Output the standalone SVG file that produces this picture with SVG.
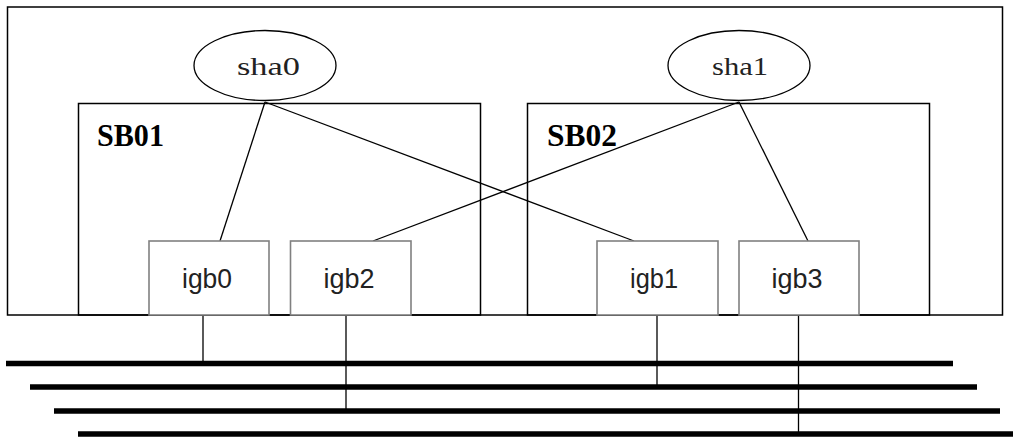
<svg xmlns="http://www.w3.org/2000/svg" width="1013" height="437" viewBox="0 0 1013 437">
<style>
.box{fill:none;stroke:#000;stroke-width:1.5}
.nic{fill:#fff;stroke:#808080;stroke-width:1.6}
.ell{fill:#fff;stroke:#000;stroke-width:1.3}
.ln{stroke:#000;stroke-width:1.3;fill:none}
.bus{stroke:#000;stroke-width:5.5}
.sha{font-family:"Liberation Serif",serif;font-size:26px;fill:#222;text-anchor:middle}
.sb{font-family:"Liberation Serif",serif;font-weight:bold;font-size:31px;fill:#000}
.igb{font-family:"Liberation Sans",Arial,sans-serif;font-size:27px;fill:#222;text-anchor:middle}
</style>
<rect width="1013" height="437" fill="#fff"/>
<g id="host"><rect class="box" x="7.5" y="7" width="995" height="308"/></g>
<g id="SB01"><rect class="box" x="78.5" y="103.5" width="402" height="211.5"/><text class="sb" x="97" y="146" textLength="67" lengthAdjust="spacingAndGlyphs">SB01</text></g>
<g id="SB02"><rect class="box" x="527.5" y="103.5" width="402" height="211.5"/><text class="sb" x="547" y="146" textLength="70" lengthAdjust="spacingAndGlyphs">SB02</text></g>
<g id="connectors">
<line class="ln" x1="265" y1="102" x2="220" y2="241"/>
<line class="ln" x1="265" y1="102" x2="634" y2="241"/>
<line class="ln" x1="739" y1="102" x2="373" y2="241"/>
<line class="ln" x1="739" y1="102" x2="808" y2="241"/>
<line class="ln" x1="203" y1="315" x2="203" y2="363"/>
<line class="ln" x1="346" y1="315" x2="346" y2="411"/>
<line class="ln" x1="657" y1="315" x2="657" y2="387"/>
<line class="ln" x1="798.5" y1="315" x2="798.5" y2="434"/>
<line class="bus" x1="6" y1="363.5" x2="953" y2="363.5"/>
<line class="bus" x1="30" y1="387" x2="977" y2="387"/>
<line class="bus" x1="54" y1="411" x2="1000" y2="411"/>
<line class="bus" x1="78" y1="434" x2="1013" y2="434"/>
</g>
<g id="sha0"><ellipse class="ell" cx="265" cy="65.5" rx="71" ry="35"/><text class="sha" x="268.5" y="75" textLength="63" lengthAdjust="spacingAndGlyphs">sha0</text></g>
<g id="sha1"><ellipse class="ell" cx="739" cy="65.5" rx="71" ry="35"/><text class="sha" x="740" y="75" textLength="56" lengthAdjust="spacingAndGlyphs">sha1</text></g>
<g id="igb0"><rect class="nic" x="149" y="241" width="120" height="74"/><text class="igb" x="207" y="288" textLength="50" lengthAdjust="spacingAndGlyphs">igb0</text></g>
<g id="igb2"><rect class="nic" x="290.5" y="241" width="120.5" height="74"/><text class="igb" x="349" y="288" textLength="51" lengthAdjust="spacingAndGlyphs">igb2</text></g>
<g id="igb1"><rect class="nic" x="597" y="241" width="121" height="74"/><text class="igb" x="654" y="288" textLength="48" lengthAdjust="spacingAndGlyphs">igb1</text></g>
<g id="igb3"><rect class="nic" x="739" y="241" width="120" height="74"/><text class="igb" x="797" y="288" textLength="51" lengthAdjust="spacingAndGlyphs">igb3</text></g>
</svg>
